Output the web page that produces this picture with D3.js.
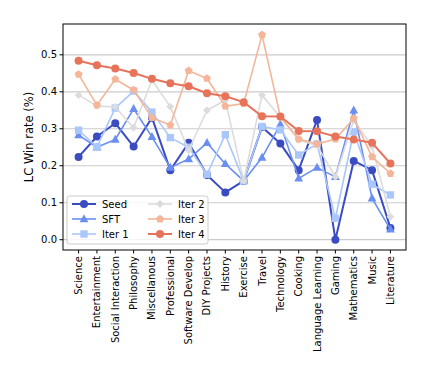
<!DOCTYPE html>
<html><head><meta charset="utf-8">
<script src="https://cdn.jsdelivr.net/npm/d3@7/dist/d3.min.js"></script>
<style>body{margin:0;background:#fff}svg{display:block}text{font-family:"DejaVu Sans",sans-serif}</style>
</head><body><svg id="c" width="442" height="365"></svg>
<script>
const categories = ["Science","Entertainment","Social Interaction","Philosophy","Miscellanous","Professional","Software Develop","DIY Projects","History","Exercise","Travel","Technology","Cooking","Language Learning","Gaming","Mathematics","Music","Literature"];
const seed  = [0.224,0.279,0.315,0.252,0.330,0.188,0.262,0.175,0.128,0.159,0.305,0.260,0.188,0.324,0.000,0.213,0.188,0.032];
const sft   = [0.283,0.250,0.271,0.354,0.278,0.195,0.218,0.262,0.205,0.159,0.222,0.312,0.166,0.195,0.170,0.350,0.112,0.028];
const iter1 = [0.296,0.251,0.356,0.402,0.345,0.276,0.250,0.177,0.284,0.159,0.306,0.297,0.229,0.259,0.058,0.292,0.150,0.121];
const iter2 = [0.391,0.362,0.359,0.303,0.432,0.360,0.242,0.350,0.377,0.159,0.391,0.331,0.270,0.255,0.170,0.323,0.252,0.062];
const iter3 = [0.447,0.364,0.434,0.405,0.330,0.310,0.457,0.436,0.361,0.368,0.554,0.332,0.272,0.259,0.272,0.328,0.224,0.179];
const iter4 = [0.484,0.472,0.463,0.451,0.435,0.423,0.415,0.396,0.388,0.372,0.334,0.333,0.294,0.293,0.279,0.271,0.262,0.206];
const seriesNames = ["Seed","SFT","Iter 1","Iter 2","Iter 3","Iter 4"];
const yTicks = [0.0,0.1,0.2,0.3,0.4,0.5];

const seriesData = [seed,sft,iter1,iter2,iter3,iter4];
const colors = ["#3b4cc0","#6a8ff0","#aac7fd","#dcdcdc","#f5b598","#e7735a"];
const markers = ["circle","triangle","square","diamond","pentagon","circle"];
const widths = [2,1.6,1.6,1.6,1.6,2];

const svg = d3.select("#c");
const L=63,R=406,T=24,B=250;
const x = d3.scaleLinear().domain([-0.85, categories.length-1+0.85]).range([L,R]);
const y = d3.scaleLinear().domain([-0.0278,0.5833]).range([B,T]);

// grid
svg.append("g").selectAll("line").data(yTicks).join("line")
  .attr("x1",L).attr("x2",R).attr("y1",d=>y(d)).attr("y2",d=>y(d))
  .attr("stroke","#cbcbcb").attr("stroke-width",1.2);

function markerPath(type, s){
  if(type==="circle"){ return d3.symbol(d3.symbolCircle, Math.PI*s*s)(); }
  if(type==="square"){ return `M${-s},${-s}H${s}V${s}H${-s}Z`; }
  if(type==="triangle"){ return `M0,${-s*1.15}L${s*1.05},${s*0.75}L${-s*1.05},${s*0.75}Z`; }
  if(type==="diamond"){ const d=s*1.15; return `M0,${-d}L${d},0L0,${d}L${-d},0Z`; }
  if(type==="pentagon"){ let p=[]; for(let i=0;i<5;i++){const a=-Math.PI/2+i*2*Math.PI/5; p.push([s*1.1*Math.cos(a), s*1.1*Math.sin(a)]);} return "M"+p.map(q=>q.join(",")).join("L")+"Z"; }
}
const msize = [4,4.2,3.7,3.4,3.8,4];

const line = d3.line().x((d,i)=>x(i)).y(d=>y(d));
const plot = svg.append("g");
seriesData.forEach((vals,k)=>{
  const g = plot.append("g");
  g.append("path").attr("d",line(vals)).attr("fill","none").attr("stroke",colors[k]).attr("stroke-width",widths[k]).attr("stroke-linejoin","round");
  g.selectAll("path.m").data(vals).join("path").attr("class","m")
    .attr("transform",(d,i)=>`translate(${x(i)},${y(d)})`)
    .attr("d",markerPath(markers[k],msize[k])).attr("fill",colors[k]);
});

// spines
svg.append("rect").attr("x",L).attr("y",T).attr("width",R-L).attr("height",B-T).attr("fill","none").attr("stroke","#000").attr("stroke-width",1);

// y axis
const yg = svg.append("g");
yTicks.forEach(t=>{
  yg.append("line").attr("x1",L-3.5).attr("x2",L).attr("y1",y(t)).attr("y2",y(t)).attr("stroke","#000");
  yg.append("text").attr("x",L-6).attr("y",y(t)).attr("dy","0.35em").attr("text-anchor","end").attr("font-size",10).text(t.toFixed(1));
});
svg.append("text").attr("transform",`translate(33,${(T+B)/2}) rotate(-90)`).attr("text-anchor","middle").attr("font-size",11.5).text("LC Win rate (%)");

// x axis
const xg = svg.append("g");
categories.forEach((c,i)=>{
  xg.append("line").attr("x1",x(i)).attr("x2",x(i)).attr("y1",B).attr("y2",B+3.5).attr("stroke","#000");
  xg.append("text").attr("transform",`translate(${x(i)},${B+6}) rotate(-90)`).attr("text-anchor","end").attr("dy","0.35em").attr("font-size",10).text(c);
});

// legend
const lg = svg.append("g");
lg.append("rect").attr("x",67).attr("y",196).attr("width",141).attr("height",48).attr("rx",2.5)
  .attr("fill","#fff").attr("fill-opacity",0.8).attr("stroke","#cccccc").attr("stroke-width",1);
seriesNames.forEach((n,k)=>{
  const col = Math.floor(k/3), row = k%3;
  const lx = col===0 ? 72 : 148, ty = 204 + row*15;
  lg.append("line").attr("x1",lx).attr("x2",lx+24).attr("y1",ty).attr("y2",ty).attr("stroke",colors[k]).attr("stroke-width",widths[k]);
  lg.append("path").attr("transform",`translate(${lx+12},${ty})`).attr("d",markerPath(markers[k],msize[k])).attr("fill",colors[k]);
  lg.append("text").attr("x",lx+30).attr("y",ty).attr("dy","0.35em").attr("font-size",10).text(n);
});
</script></body></html>
